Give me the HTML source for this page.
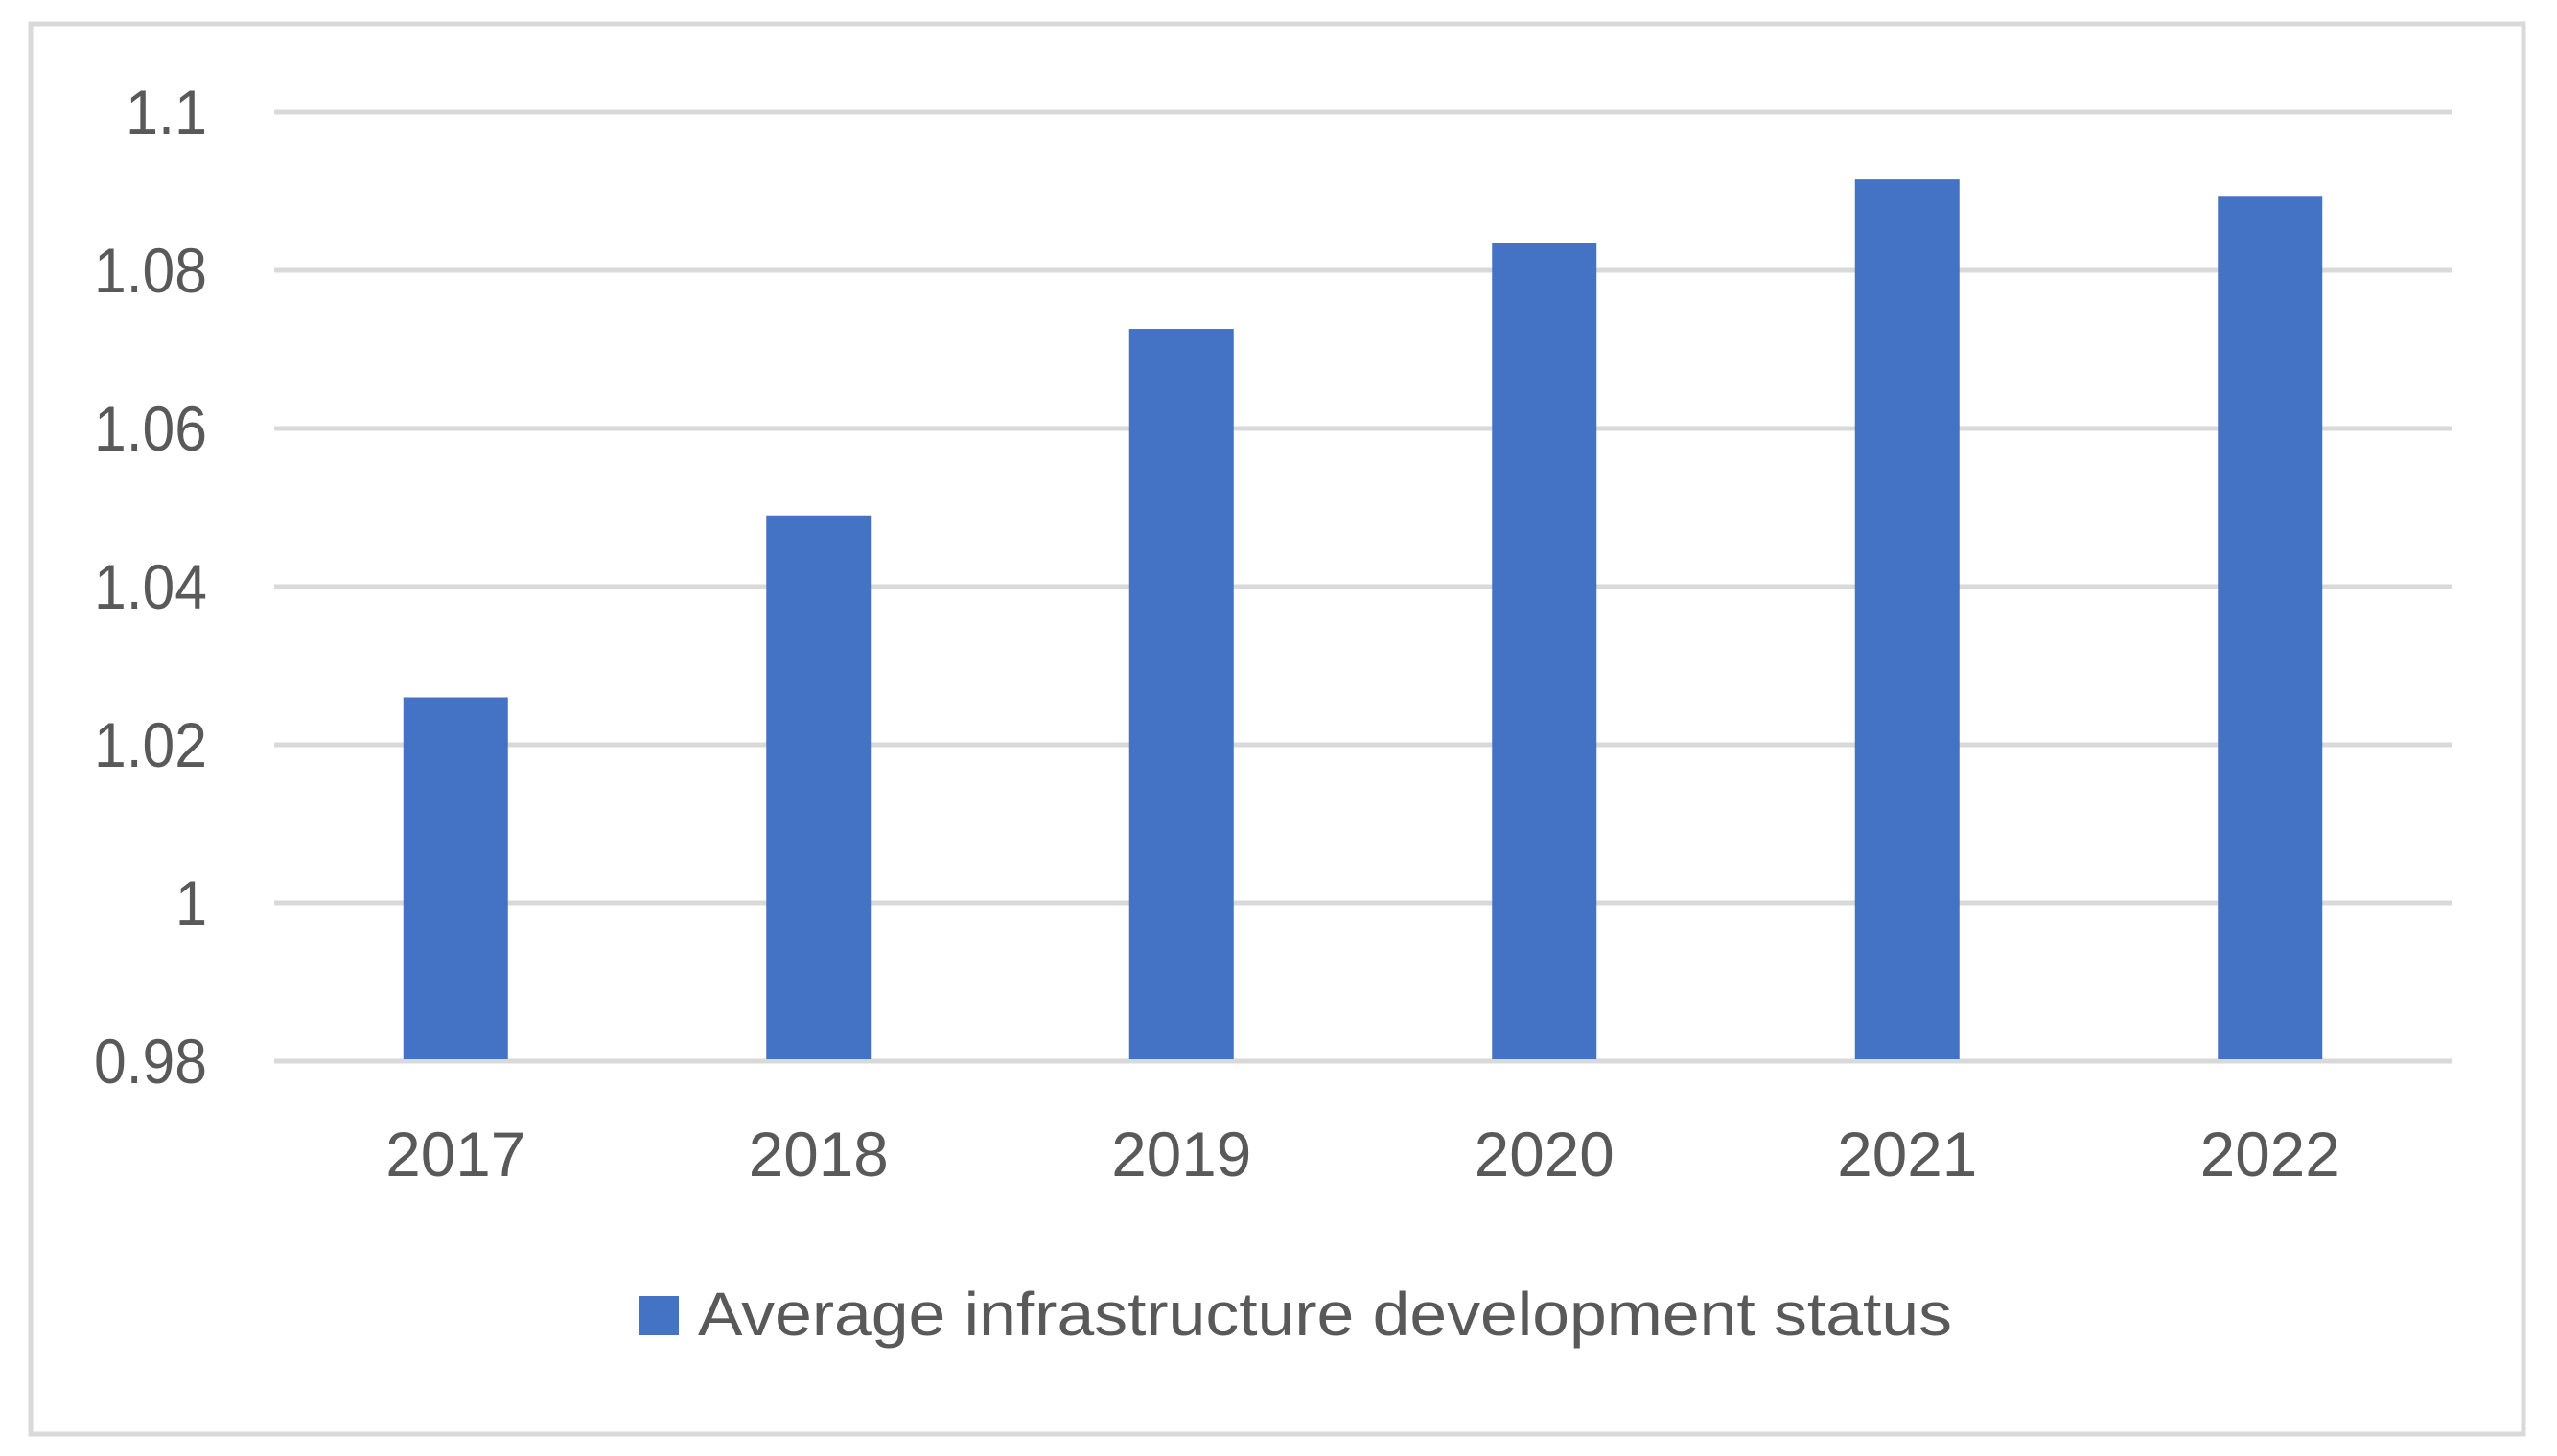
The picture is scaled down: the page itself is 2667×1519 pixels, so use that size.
<!DOCTYPE html>
<html><head><meta charset="utf-8"><style>
html,body{margin:0;padding:0;background:#fff;}
svg{display:block;font-family:"Liberation Sans",sans-serif;}
</style></head><body>
<svg id="chart" width="2667" height="1519" viewBox="0 0 2667 1519" xmlns="http://www.w3.org/2000/svg">
<rect x="32" y="25" width="2600" height="1471" fill="#fff" stroke="#d9d9d9" stroke-width="5"/>
<g id="grid"></g><g id="bars"></g><g id="ylabels"></g><g id="xlabels"></g>
<g>
<rect x="667" y="1352" width="41" height="41" fill="#4472c4"/>
<text x="728" y="1393" font-size="64" fill="#595959" textLength="1308" lengthAdjust="spacingAndGlyphs">Average infrastructure development status</text>
</g>
</svg>
<script>
const categories = ["2017","2018","2019","2020","2021","2022"];
const values = [1.026, 1.049, 1.0726, 1.0835, 1.0915, 1.0893];
const yTicks = [0.98, 1, 1.02, 1.04, 1.06, 1.08, 1.1];
const yTickLabels = ["0.98","1","1.02","1.04","1.06","1.08","1.1"];
const yMin = 0.98, yMax = 1.1;
const L = 286, R = 2557, T = 117, B = 1107;
const ns = "http://www.w3.org/2000/svg";
function y(v){ return B - (v - yMin) / (yMax - yMin) * (B - T); }
const band = (R - L) / categories.length;
function xc(i){ return L + band * (i + 0.5); }
const grid = document.getElementById('grid');
yTicks.forEach((t, i) => {
  const ln = document.createElementNS(ns, 'line');
  
  
  ln.setAttribute('x1', L); ln.setAttribute('x2', R);
  ln.setAttribute('y1', y(t)); ln.setAttribute('y2', y(t));
  ln.setAttribute('stroke', '#d9d9d9'); ln.setAttribute('stroke-width', '5');
  grid.appendChild(ln);
  const tx = document.createElementNS(ns, 'text');
  
  
  tx.setAttribute('x', 216); tx.setAttribute('y', y(t) + 23);
  tx.setAttribute('text-anchor', 'end'); tx.setAttribute('font-size', '66');
  tx.setAttribute('fill', '#595959');
  tx.setAttribute('textLength', yTickLabels[i].length * 33 + (yTickLabels[i].includes('.') ? -14 : 0));
  tx.setAttribute('lengthAdjust', 'spacingAndGlyphs');
  tx.textContent = yTickLabels[i];
  document.getElementById('ylabels').appendChild(tx);
});
const bw = 109;
categories.forEach((c, i) => {
  const r = document.createElementNS(ns, 'rect');
  
  
  r.setAttribute('x', xc(i) - bw / 2); r.setAttribute('width', bw);
  r.setAttribute('y', y(values[i])); r.setAttribute('height', B - 2 - y(values[i]));
  r.setAttribute('fill', '#4472c4');
  document.getElementById('bars').appendChild(r);
  const tx = document.createElementNS(ns, 'text');
  
  
  tx.setAttribute('x', xc(i)); tx.setAttribute('y', 1227);
  tx.setAttribute('text-anchor', 'middle'); tx.setAttribute('font-size', '66');
  tx.setAttribute('fill', '#595959');
  tx.setAttribute('textLength', '146');
  tx.setAttribute('lengthAdjust', 'spacingAndGlyphs');
  tx.textContent = c;
  document.getElementById('xlabels').appendChild(tx);
});
</script>
</body></html>
